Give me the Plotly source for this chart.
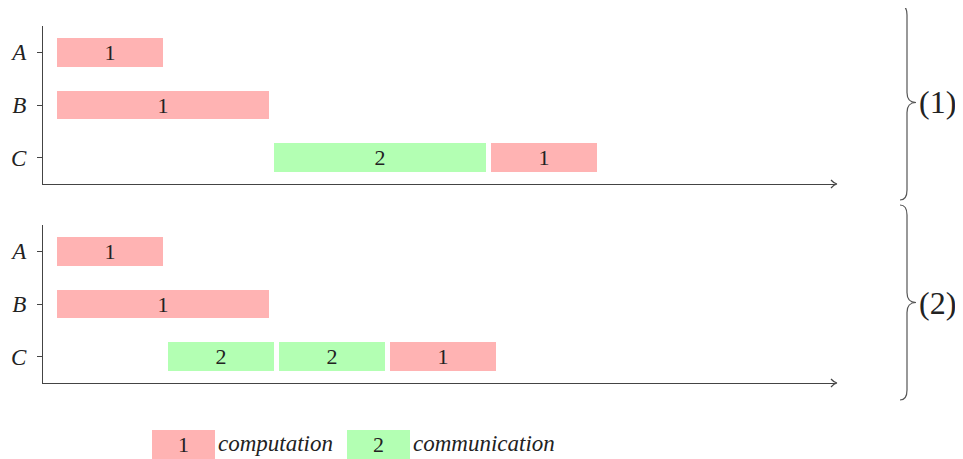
import plotly.graph_objects as go

# task rows and kinds
rows = ["A", "B", "C"]
kind_label = {"comp": "1", "comm": "2"}
kind_color = {"comp": "#FFB3B3", "comm": "#B3FFB3"}
legend_names = {"comp": "computation", "comm": "communication"}

# scenario (1)
s1_row = [0, 1, 2, 2]
s1_start = [0, 0, 2.05, 4.09]
s1_dur = [1, 2, 2, 1]
s1_kind = ["comp", "comp", "comm", "comp"]

# scenario (2)
s2_row = [0, 1, 2, 2, 2]
s2_start = [0, 0, 1.05, 2.09, 3.14]
s2_dur = [1, 2, 1, 1, 1]
s2_kind = ["comp", "comp", "comm", "comm", "comp"]

# the page body has an 8px margin, so the figure is drawn 8px smaller
OFF = 8
W, H = 963 - OFF, 459 - OFF
FONT = "Liberation Serif"
AXIS = "#444444"


def px(x, y):
    return (x - OFF) / W, 1 - (y - OFF) / H


def brace(y0, y1, x0=900, x1=907, x2=916):
    ym = (y0 + y1) / 2
    pts = [
        ("M", [(x0, y0)]),
        ("Q", [(x1, y0), (x1, y0 + 10)]),
        ("L", [(x1, ym - 10)]),
        ("Q", [(x1, ym), (x2, ym)]),
        ("Q", [(x1, ym), (x1, ym + 10)]),
        ("L", [(x1, y1 - 10)]),
        ("Q", [(x1, y1), (x0, y1)]),
    ]
    path = ""
    for cmd, coords in pts:
        path += cmd + " " + " ".join("%.5f,%.5f" % px(a, b) for a, b in coords) + " "
    return path


def arrow_head(xt, yt):
    a = px(xt - 6, yt - 4)
    m1 = px(xt - 3, yt - 0.5)
    b = px(xt, yt)
    m2 = px(xt - 3, yt + 0.5)
    c = px(xt - 6, yt + 4)
    return "M %.5f,%.5f Q %.5f,%.5f %.5f,%.5f Q %.5f,%.5f %.5f,%.5f" % (
        a[0], a[1], m1[0], m1[1], b[0], b[1], m2[0], m2[1], c[0], c[1])


fig = go.Figure()

for n, (rr, st, du, kd) in enumerate([(s1_row, s1_start, s1_dur, s1_kind),
                                      (s2_row, s2_start, s2_dur, s2_kind)]):
    fig.add_trace(go.Bar(
        orientation="h",
        y=rr,
        x=du,
        base=st,
        width=0.55,
        marker=dict(color=[kind_color[k] for k in kd], line=dict(width=0)),
        text=[kind_label[k] for k in kd],
        textposition="inside",
        insidetextanchor="middle",
        textangle=0,
        constraintext="none",
        textfont=dict(family=FONT, size=22, color="#222222"),
        hoverinfo="skip",
        showlegend=False,
        xaxis="x" if n == 0 else "x2",
        yaxis="y" if n == 0 else "y2",
    ))

x_dom = [px(43, 0)[0], px(835, 0)[0]]
x_rng = [(43 - 57) / 106, (835 - 57) / 106]

xaxis_style = dict(
    domain=x_dom, range=x_rng, showgrid=False, zeroline=False,
    showline=True, linecolor=AXIS, linewidth=1.3, showticklabels=False, ticks="",
)
yaxis_style = dict(
    range=[2.5, -0.5], showgrid=False, zeroline=False,
    showline=True, linecolor=AXIS, linewidth=1.3,
    tickvals=[0, 1, 2], ticktext=["<i>%s</i>" % r for r in rows],
    ticks="outside", ticklen=5, tickcolor=AXIS, tickwidth=1.3,
    tickfont=dict(family=FONT, size=23, color="#222222"),
    ticklabelstandoff=6,
)

fig.update_layout(
    width=W, height=H,
    margin=dict(l=0, r=0, t=0, b=0),
    paper_bgcolor="white", plot_bgcolor="white",
    bargap=0, barmode="overlay",
    uniformtext=dict(mode="show", minsize=22),
    xaxis=dict(anchor="y", **xaxis_style),
    yaxis=dict(anchor="x", domain=[px(0, 184)[1], px(0, 26)[1]], **yaxis_style),
    xaxis2=dict(anchor="y2", **xaxis_style),
    yaxis2=dict(anchor="x2", domain=[px(0, 383)[1], px(0, 225)[1]], **yaxis_style),
)

shapes = []
# axis arrow heads
for yy in (184, 383):
    shapes.append(dict(type="path", xref="paper", yref="paper", path=arrow_head(837, yy),
                       line=dict(color=AXIS, width=1.2)))
# braces
for y0, y1 in ((5, 200), (205, 400)):
    shapes.append(dict(type="path", xref="paper", yref="paper", path=brace(y0, y1),
                       line=dict(color="#555555", width=1.2)))

annotations = []
for lab, yc in (("(1)", 102), ("(2)", 303)):
    x, y = px(917, yc)
    annotations.append(dict(text=lab, x=x, y=y, xref="paper", yref="paper", showarrow=False,
                            xanchor="left", yanchor="middle",
                            font=dict(family=FONT, size=32, color="#222222")))

# legend
for k, x0, x1 in (("comp", 152, 215), ("comm", 347, 410)):
    a = px(x0, 430)
    b = px(x1, 459)
    shapes.append(dict(type="rect", xref="paper", yref="paper", x0=a[0], x1=b[0], y0=b[1], y1=a[1],
                       fillcolor=kind_color[k], line=dict(width=0)))
    cx, cy = px((x0 + x1) / 2, 444)
    annotations.append(dict(text=kind_label[k], x=cx, y=cy, xref="paper", yref="paper",
                            showarrow=False, xanchor="center", yanchor="middle",
                            font=dict(family=FONT, size=22, color="#222222")))
    tx, ty = px(x1 + 1, 443)
    annotations.append(dict(text="<i>%s</i>" % legend_names[k], x=tx, y=ty, xref="paper",
                            yref="paper", showarrow=False, xanchor="left", yanchor="middle",
                            font=dict(family=FONT, size=23, color="#222222")))

fig.update_layout(shapes=shapes, annotations=annotations)

fig.write_html("out.html")
